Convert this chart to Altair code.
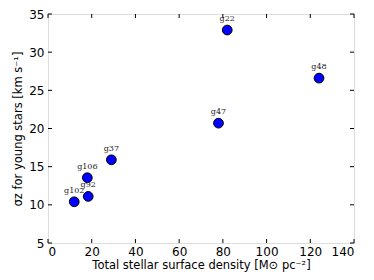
import altair as alt
import pandas as pd

names = ["g22", "g48", "g47", "g37", "g106", "g92", "g102"]
density = [82.0, 124.0, 78.0, 29.0, 18.0, 18.4, 12.0]
sigma = [32.9, 26.6, 20.7, 15.9, 13.55, 11.1, 10.4]
x_ticks = [0, 20, 40, 60, 80, 100, 120, 140]
y_ticks = [5, 10, 15, 20, 25, 30, 35]

W, H = 306, 229
df = pd.DataFrame({"name": names, "x": density, "y": sigma})
xt = pd.DataFrame({"x": x_ticks})
yt = pd.DataFrame({"y": y_ticks})

xs = alt.Scale(domain=[0, 140], nice=False, zero=False)
ys = alt.Scale(domain=[5, 35], nice=False, zero=False)

axis_common = dict(ticks=False, grid=False, domain=False, labelFont="DejaVu Sans",
                   labelFontSize=12, labelColor="black", titleFont="DejaVu Sans",
                   titleFontSize=11.5, titleFontWeight="normal", titleColor="black")
xax = alt.Axis(values=x_ticks, labelPadding=3, titlePadding=2,
               title="Total stellar surface density [M\u2299 pc\u207b\u00b2]", **axis_common)
yax = alt.Axis(values=y_ticks, labelPadding=4, titlePadding=5,
               title="\u03c3z for young stars [km s\u207b\u00b9]", **axis_common)

points = alt.Chart(df).mark_point(filled=True, size=95, fill="#0000ff", stroke="black",
                                  strokeWidth=1, opacity=1).encode(
    x=alt.X("x:Q", scale=xs, axis=xax),
    y=alt.Y("y:Q", scale=ys, axis=yax),
)

labels = alt.Chart(df).mark_text(font="DejaVu Serif", fontSize=8, dy=-7, color="#222222",
                                 baseline="bottom").encode(
    x=alt.X("x:Q", scale=xs, axis=xax), y=alt.Y("y:Q", scale=ys, axis=yax), text="name:N")

tb = alt.Chart(xt).mark_rule(color="black", strokeWidth=1).encode(
    x=alt.X("x:Q", scale=xs, axis=xax), y=alt.value(H), y2=alt.value(H - 4))
tt = alt.Chart(xt).mark_rule(color="black", strokeWidth=1).encode(
    x=alt.X("x:Q", scale=xs, axis=xax), y=alt.value(0), y2=alt.value(4))
tl = alt.Chart(yt).mark_rule(color="black", strokeWidth=1).encode(
    y=alt.Y("y:Q", scale=ys, axis=yax), x=alt.value(0), x2=alt.value(4))
tr = alt.Chart(yt).mark_rule(color="black", strokeWidth=1).encode(
    y=alt.Y("y:Q", scale=ys, axis=yax), x=alt.value(W), x2=alt.value(W - 4))

chart = alt.layer(points, labels, tb, tt, tl, tr).properties(
    width=W, height=H,
    autosize=alt.AutoSizeParams(type="none"),
    padding={"left": 40, "top": 6, "right": 10, "bottom": 30},
).configure_view(stroke="black", strokeWidth=1.5).configure(background="white")

chart.save("out.html", embed_options={"renderer": "svg", "actions": False})
